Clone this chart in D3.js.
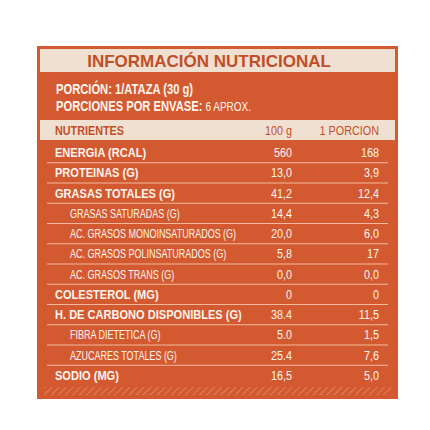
<!DOCTYPE html>
<html><head><meta charset="utf-8">
<script src="https://cdn.jsdelivr.net/npm/d3@7"></script>
<style>body{margin:0;background:#fff}</style></head>
<body><svg id="c" width="430" height="430"></svg>
<script>
const nutrients=["ENERGIA (RCAL)","PROTEINAS (G)","GRASAS TOTALES (G)","GRASAS SATURADAS (G)","AC. GRASOS MONOINSATURADOS (G)","AC. GRASOS POLINSATURADOS (G)","AC. GRASOS TRANS (G)","COLESTEROL (MG)","H. DE CARBONO DISPONIBLES (G)","FIBRA DIETETICA (G)","AZUCARES TOTALES (G)","SODIO (MG)"];
const per100=["560","13,0","41,2","14,4","20,0","5,8","0,0","0","38.4","5.0","25.4","16,5"];
const perPortion=["168","3,9","12,4","4,3","6,0","17","0,0","0","11,5","1,5","7,6","5,0"];
const subRow=[0,0,0,1,1,1,1,0,0,1,1,0];
const headers=["NUTRIENTES","100 g","1 PORCION"];

const svg=d3.select("#c");
const O="#d35a30",C="#f0e0d2",T="#c24e28",w="#fff5ee";
const F="'Liberation Sans',Arial,sans-serif";
const defs=svg.append("defs");
const p=defs.append("pattern").attr("id","h").attr("width",5).attr("height",5).attr("patternUnits","userSpaceOnUse").attr("patternTransform","rotate(45)");
p.append("rect").attr("width",5).attr("height",5).attr("fill",O);
p.append("line").attr("x1",0).attr("y1",0).attr("x2",0).attr("y2",5).attr("stroke","#e89a78").attr("stroke-width",1.2);

function txt(sel,x,y,s,opts){
  const t=sel.append("text").attr("transform",`translate(${x},${y}) scale(${opts.sx||0.8},1)`)
   .attr("text-anchor",opts.anchor||"start").attr("fill",opts.fill||w).attr("font-family",F)
   .attr("font-weight",opts.bold?"bold":"normal").attr("font-size",opts.size||13.5);
  if(s!=null)t.text(s);
  return t;
}

svg.append("rect").attr("x",37).attr("y",46).attr("width",361).attr("height",353).attr("fill",O);
svg.append("rect").attr("x",40).attr("y",49).attr("width",355).attr("height",23).attr("fill",C);
txt(svg,209,67,"INFORMACIÓN NUTRICIONAL",{anchor:"middle",fill:T,bold:true,size:17,sx:1});
txt(svg,56,94,"PORCIÓN: 1/ATAZA (30 g)",{bold:true,size:14});
const t2=txt(svg,56,111,null,{bold:true,size:14});
t2.append("tspan").text("PORCIONES POR ENVASE: ");
t2.append("tspan").attr("font-weight","normal").attr("font-size",12.5).text("6 APROX.");

svg.append("rect").attr("x",40).attr("y",120).attr("width",355).attr("height",20).attr("fill",C);
const cx=[55,292,379],anc=["start","end","end"];
headers.forEach((h,i)=>txt(svg,cx[i],135,h,{anchor:anc[i],fill:T,bold:i==0,size:13.5}));

const y=d3.scaleBand().domain(d3.range(nutrients.length)).range([142,385]);
const bh=y.bandwidth();
const g=svg.selectAll("g.r").data(nutrients).join("g").attr("transform",(d,i)=>`translate(0,${y(i)})`);
g.filter((d,i)=>i>0).append("line").attr("x1",47).attr("x2",388).attr("y1",0.5).attr("y2",0.5).attr("stroke","#f2b89c").attr("stroke-width",1);
g.each(function(d,i){
  const s=d3.select(this), yy=bh/2+5;
  txt(s,subRow[i]?70:55,yy,d,{bold:!subRow[i],size:subRow[i]?12.5:13.5,sx:subRow[i]?0.72:0.82});
  txt(s,292,yy,per100[i],{anchor:"end",size:13.5});
  txt(s,379,yy,perPortion[i],{anchor:"end",size:13.5});
});
svg.append("rect").attr("x",44).attr("y",387).attr("width",347).attr("height",8).attr("fill","url(#h)");
</script></body></html>
